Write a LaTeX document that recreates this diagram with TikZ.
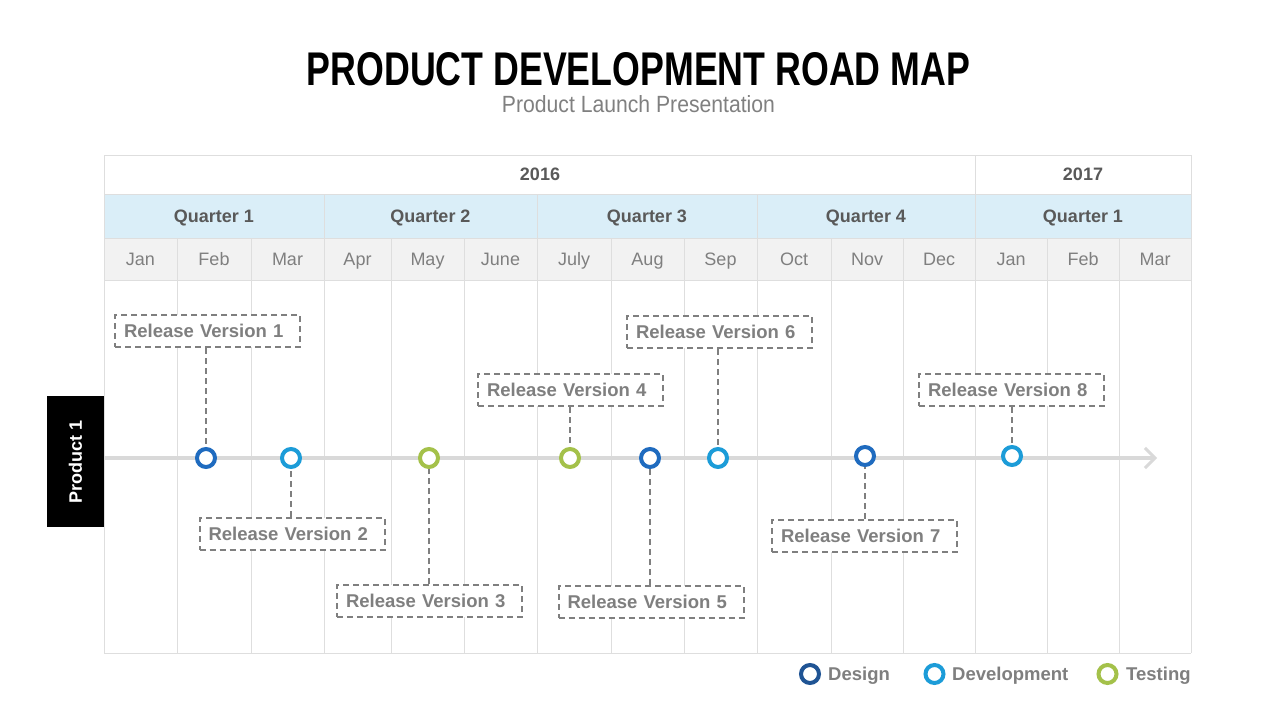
\documentclass[tikz,border=0pt]{standalone}
\usepackage{fontspec}
\setmainfont{Liberation Sans}
\usetikzlibrary{arrows.meta}
\definecolor{gridc}{HTML}{DEDEDE}
\definecolor{qfill}{HTML}{DAEEF8}
\definecolor{mfill}{HTML}{F2F2F2}
\definecolor{hdtext}{HTML}{595959}
\definecolor{mtext}{HTML}{7F7F7F}
\definecolor{subc}{HTML}{808080}
\definecolor{dsg}{HTML}{1F6BBF}
\definecolor{dsgleg}{HTML}{1F5494}
\definecolor{dev}{HTML}{1C9CD8}
\definecolor{tst}{HTML}{A4C14A}
\definecolor{lbl}{HTML}{7F7F7F}
\definecolor{axisc}{HTML}{D9D9D9}
\begin{document}
\begin{tikzpicture}[x=1pt,y=-1pt,
  grid/.style={draw=gridc,line width=1pt},
  txt/.style={inner sep=0,text height=13pt,text depth=0pt},
  hdr/.style={txt,text=hdtext,font=\fontsize{18}{18}\selectfont\bfseries},
  mon/.style={txt,text=mtext,font=\fontsize{18}{18}\selectfont},
  ms/.style={circle,draw=#1,line width=4pt,fill=white,minimum size=18pt,inner sep=0},
  rv/.style={draw=lbl,dash pattern=on 6pt off 4pt,line width=2pt,fill=white,
    text width=167pt,align=left,inner xsep=9pt,inner ysep=0pt,
    minimum height=32pt,text height=13pt,text depth=0pt,
    text=lbl,font=\fontsize{18.5}{18.5}\selectfont\bfseries},
  conn/.style={draw=lbl,dash pattern=on 6pt off 4pt,line width=2pt},
  legt/.style={txt,anchor=west,text=lbl,font=\fontsize{18.5}{18.5}\selectfont\bfseries}
]
\useasboundingbox (0,0) rectangle (1280,720);
\fill[white] (0,0) rectangle (1280,720);

% title
\node[inner sep=0] (title) at (638.5,69) {\resizebox{663pt}{33pt}{\bfseries PRODUCT DEVELOPMENT ROAD MAP}};
\node[inner sep=0,text=subc] (sub) at (638.5,104) {\resizebox{273pt}{17pt}{Product Launch Presentation}};

% table fills
\fill[qfill] (104,194) rectangle (1191,238);
\fill[mfill] (104,238) rectangle (1191,280);

% grid
\foreach \y in {155,194,238,280,653} \draw[grid] (104,\y) -- (1191,\y);
\foreach \x in {104,975,1191} \draw[grid] (\x,155) -- (\x,653);
\foreach \x in {324,537,757} \draw[grid] (\x,194) -- (\x,653);
\foreach \x in {177,251,391,464,611,684,831,903,1047,1119} \draw[grid] (\x,238) -- (\x,653);

% header texts
\node[hdr] (y2016) at (540,174) {2016};
\node[hdr] (y2017) at (1083,174) {2017};
\node[hdr] (q1) at (214,216) {Quarter 1};
\node[hdr] (q2) at (430.5,216) {Quarter 2};
\node[hdr] (q3) at (647,216) {Quarter 3};
\node[hdr] (q4) at (866,216) {Quarter 4};
\node[hdr] (q5) at (1083,216) {Quarter 1};
\foreach \x/\m [count=\i] in {140.5/Jan,214/Feb,287.5/Mar,357.5/Apr,427.5/May,500.5/June,574/July,647.5/Aug,720.5/Sep,794/Oct,867/Nov,939/Dec,1011/Jan,1083/Feb,1155/Mar}
  \node[mon] (m\i) at (\x,259) {\m};

% product label
\node[fill=black,minimum width=57pt,minimum height=131pt,inner sep=0] (prod) at (75.5,461.5) {};
\node[rotate=90,text=white,font=\fontsize{18}{18}\selectfont\bfseries,inner sep=0] (prodt) at (prod.center) {Product 1};

% axis
\coordinate (axs) at (104,458);
\coordinate (axe) at (1157,458);
\draw[axisc,line width=4pt,-{Straight Barb[length=10pt,width=20pt,line width=3pt]}] (axs) -- (axe);

% label boxes
\node[rv] (r1) at (207.5,331) {Release Version 1};
\node[rv] (r2) at (292,534) {Release Version 2};
\node[rv] (r3) at (429.5,601) {Release Version 3};
\node[rv] (r4) at (570.5,390) {Release Version 4};
\node[rv] (r5) at (651,602) {Release Version 5};
\node[rv] (r6) at (719.5,332) {Release Version 6};
\node[rv] (r7) at (864.5,536) {Release Version 7};
\node[rv] (r8) at (1011.5,390) {Release Version 8};

% milestones
\coordinate (p1) at (206,458);
\coordinate (p2) at (291,458);
\coordinate (p3) at (429,458);
\coordinate (p4) at (570,458);
\coordinate (p5) at (650,458);
\coordinate (p6) at (718,458);
\coordinate (p7) at (865,456);
\coordinate (p8) at (1012,456);

\draw[conn] (r1.south -| p1) -- (p1);
\draw[conn] (r2.north -| p2) -- (p2);
\draw[conn] (r3.north -| p3) -- (p3);
\draw[conn] (r4.south -| p4) -- (p4);
\draw[conn] (r5.north -| p5) -- (p5);
\draw[conn] (r6.south -| p6) -- (p6);
\draw[conn] (r7.north -| p7) -- (p7);
\draw[conn] (r8.south -| p8) -- (p8);

\node[ms=dsg] (c1) at (p1) {};
\node[ms=dev] (c2) at (p2) {};
\node[ms=tst] (c3) at (p3) {};
\node[ms=tst] (c4) at (p4) {};
\node[ms=dsg] (c5) at (p5) {};
\node[ms=dev] (c6) at (p6) {};
\node[ms=dsg] (c7) at (p7) {};
\node[ms=dev] (c8) at (p8) {};

% legend
\node[ms=dsgleg] (l1) at (810,674) {};
\node[legt] (l1t) at (828,674) {Design};
\node[ms=dev] (l2) at (934.5,674) {};
\node[legt] (l2t) at (952,674) {Development};
\node[ms=tst] (l3) at (1107.5,674) {};
\node[legt] (l3t) at (1126,674) {Testing};
\end{tikzpicture}
\end{document}
